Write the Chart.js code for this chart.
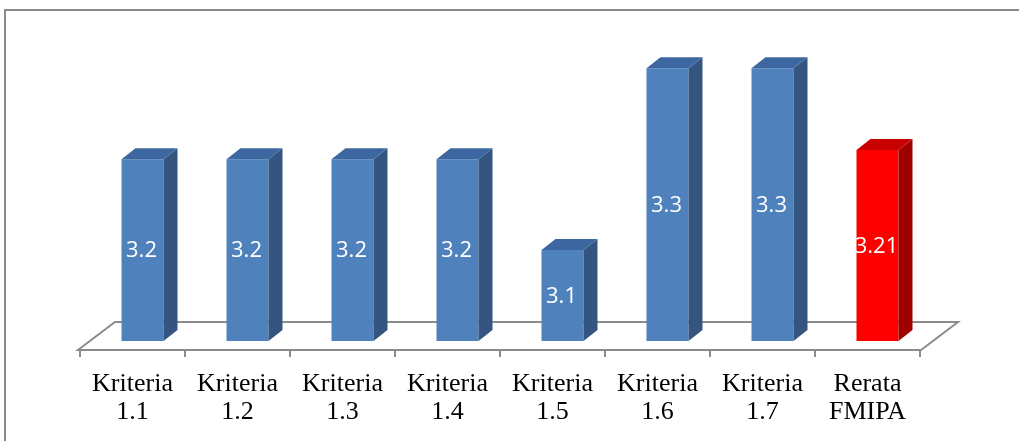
<!DOCTYPE html>
<html>
<head>
<meta charset="utf-8">
<script src="https://cdn.jsdelivr.net/npm/chart.js@4"></script>
<style>
  html, body { margin: 0; padding: 0; background: #fff; }
  #wrap { width: 1019px; height: 441px; position: relative; }
</style>
</head>
<body>
<div id="wrap"><canvas id="myBarChart" width="1019" height="441"></canvas></div>
<script>
const categories = [
  ["Kriteria", "1.1"], ["Kriteria", "1.2"], ["Kriteria", "1.3"], ["Kriteria", "1.4"],
  ["Kriteria", "1.5"], ["Kriteria", "1.6"], ["Kriteria", "1.7"], ["Rerata", "FMIPA"]
];
const scores = [3.2, 3.2, 3.2, 3.2, 3.1, 3.3, 3.3, 3.21];
const valueLabels = ["3.2", "3.2", "3.2", "3.2", "3.1", "3.3", "3.3", "3.21"];

// front / top / side colours per bar
const frontColors = ["#4F81BD", "#4F81BD", "#4F81BD", "#4F81BD", "#4F81BD", "#4F81BD", "#4F81BD", "#FF0000"];
const topColors = ["#3D67A1", "#3D67A1", "#3D67A1", "#3D67A1", "#3D67A1", "#3D67A1", "#3D67A1", "#C80000"];
const sideColors = ["#34557F", "#34557F", "#34557F", "#34557F", "#34557F", "#34557F", "#34557F", "#A00000"];

const shift = 10;   // bars sit a little back on the floor
const dx = 14, dy = -11;

const threeD = {
  id: "threeD",
  beforeDraw(chart) {
    const ctx = chart.ctx;
    ctx.save();
    ctx.strokeStyle = "#8c8c8c";
    ctx.lineWidth = 2;
    ctx.strokeRect(5, 10, 1100, 1000);
    ctx.restore();
  },
  beforeDatasetsDraw(chart) {
    const ctx = chart.ctx;
    const xs = chart.scales.x;
    const bottom = chart.chartArea.bottom;
    const fy = bottom + 9, by = bottom - 19;
    ctx.save();
    ctx.strokeStyle = "#8c8c8c";
    ctx.lineWidth = 2;
    ctx.beginPath();
    ctx.moveTo(xs.left - 2, fy);
    ctx.lineTo(xs.right + 1, fy);
    ctx.lineTo(xs.right + 38, by);
    ctx.lineTo(xs.left + 35, by);
    ctx.closePath();
    ctx.stroke();
    const n = categories.length;
    ctx.beginPath();
    for (let i = 0; i <= n; i++) {
      const tx = Math.round(xs.left + i * (xs.right - xs.left) / n);
      ctx.moveTo(tx, fy);
      ctx.lineTo(tx, fy + 7);
    }
    ctx.stroke();
    ctx.restore();
    ctx.save();
    ctx.translate(shift, 0);
  },
  afterDatasetsDraw(chart) {
    const ctx = chart.ctx;
    const meta = chart.getDatasetMeta(0);
    meta.data.forEach((bar, i) => {
      const l = bar.x - bar.width / 2, r = bar.x + bar.width / 2;
      const t = bar.y, b = Math.min(bar.base, chart.chartArea.bottom);
      ctx.fillStyle = sideColors[i];
      ctx.beginPath();
      ctx.moveTo(r, t);
      ctx.lineTo(r + dx, t + dy);
      ctx.lineTo(r + dx, b + dy);
      ctx.lineTo(r, b);
      ctx.closePath();
      ctx.fill();
      ctx.fillStyle = topColors[i];
      ctx.beginPath();
      ctx.moveTo(l, t);
      ctx.lineTo(l + dx, t + dy);
      ctx.lineTo(r + dx, t + dy);
      ctx.lineTo(r, t);
      ctx.closePath();
      ctx.fill();
      ctx.fillStyle = "#ffffff";
      ctx.font = "22px 'Open Sans'";
      ctx.textAlign = "center";
      ctx.textBaseline = "middle";
      ctx.fillText(valueLabels[i], bar.x - 1, (t + b) / 2 + 1);
    });
    ctx.restore();
  }
};

const ctx = document.getElementById("myBarChart").getContext("2d");
new Chart(ctx, {
  type: "bar",
  data: {
    labels: categories,
    datasets: [{
      data: scores,
      backgroundColor: frontColors,
      borderWidth: 0,
      categoryPercentage: 1,
      barPercentage: 0.4
    }]
  },
  options: {
    responsive: false,
    animation: false,
    devicePixelRatio: 1,
    layout: { padding: { left: 80, right: 99, top: 0, bottom: 0 } },
    scales: {
      y: { display: false, min: 3, max: 3.375 },
      x: {
        grid: { display: false, drawTicks: false },
        border: { display: false },
        ticks: {
          color: "#000",
          padding: 29,
          maxRotation: 0,
          autoSkip: false,
          font: { family: "'Liberation Serif'", size: 26, lineHeight: 1.08 }
        },
        afterFit(scale) { scale.height = 100; }
      }
    },
    plugins: { legend: { display: false }, tooltip: { enabled: false } }
  },
  plugins: [threeD]
});
</script>
</body>
</html>
